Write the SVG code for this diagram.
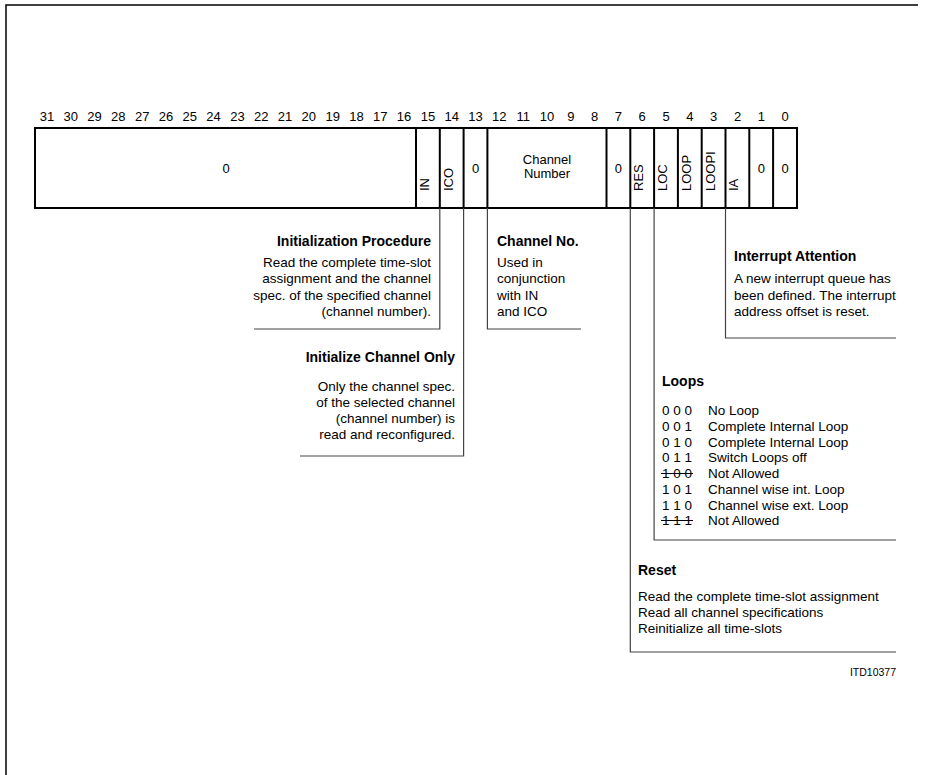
<svg xmlns="http://www.w3.org/2000/svg" width="928" height="775" viewBox="0 0 928 775">
<style>
text{font-family:"Liberation Sans",Arial,sans-serif;font-size:13.5px;fill:#000}
.n{font-size:13px}
.b{font-weight:bold;font-size:14px}
.e{text-anchor:end}
.m{text-anchor:middle}
.frame{stroke:#000;stroke-width:1.5;fill:none}
.reg{stroke:#000;stroke-width:2;fill:#fff}
.div{stroke:#000;stroke-width:2}
.con{stroke:#444;stroke-width:1.2;fill:none}
.strk{stroke:#000;stroke-width:1}
</style>
<rect width="928" height="775" fill="#fff"/>
<path class="frame" d="M6,775 V5 H918"/>
<g id="bits" class="n">
<text class="m n" x="46.9" y="121">31</text><text class="m n" x="70.7" y="121">30</text><text class="m n" x="94.5" y="121">29</text><text class="m n" x="118.3" y="121">28</text><text class="m n" x="142.2" y="121">27</text><text class="m n" x="166" y="121">26</text><text class="m n" x="189.8" y="121">25</text><text class="m n" x="213.6" y="121">24</text><text class="m n" x="237.4" y="121">23</text><text class="m n" x="261.2" y="121">22</text><text class="m n" x="285" y="121">21</text><text class="m n" x="308.8" y="121">20</text><text class="m n" x="332.7" y="121">19</text><text class="m n" x="356.5" y="121">18</text><text class="m n" x="380.3" y="121">17</text><text class="m n" x="404.1" y="121">16</text><text class="m n" x="427.9" y="121">15</text><text class="m n" x="451.7" y="121">14</text><text class="m n" x="475.5" y="121">13</text><text class="m n" x="499.3" y="121">12</text><text class="m n" x="523.2" y="121">11</text><text class="m n" x="547" y="121">10</text><text class="m n" x="570.8" y="121">9</text><text class="m n" x="594.6" y="121">8</text><text class="m n" x="618.4" y="121">7</text><text class="m n" x="642.2" y="121">6</text><text class="m n" x="666" y="121">5</text><text class="m n" x="689.8" y="121">4</text><text class="m n" x="713.7" y="121">3</text><text class="m n" x="737.5" y="121">2</text><text class="m n" x="761.3" y="121">1</text><text class="m n" x="785.1" y="121">0</text>
</g>
<g id="register">
<rect class="reg" x="35" y="128" width="762" height="80"/>
<path class="div" d="M416,128V208M439.8,128V208M463.6,128V208M487.4,128V208M606.5,128V208M630.3,128V208M654.1,128V208M677.9,128V208M701.7,128V208M725.5,128V208M749.3,128V208M773.1,128V208"/>
<text class="m n" x="226" y="173">0</text>
<text class="n" transform="translate(429,191) rotate(-90)">IN</text>
<text class="n" transform="translate(453,191) rotate(-90)">ICO</text>
<text class="m n" x="475.5" y="173">0</text>
<text class="m n" x="547" y="164">Channel</text>
<text class="m n" x="547" y="178">Number</text>
<text class="m n" x="618.4" y="173">0</text>
<text class="n" transform="translate(643,191) rotate(-90)">RES</text>
<text class="n" transform="translate(667,191) rotate(-90)">LOC</text>
<text class="n" transform="translate(690.8,191) rotate(-90)">LOOP</text>
<text class="n" transform="translate(714.6,191) rotate(-90)">LOOPI</text>
<text class="n" transform="translate(738.4,191) rotate(-90)">IA</text>
<text class="m n" x="761.3" y="173">0</text>
<text class="m n" x="785.1" y="173">0</text>
</g>
<g id="connectors">
<path class="con" d="M439.8,208V329H254"/>
<path class="con" d="M463.6,208V456H300"/>
<path class="con" d="M487.4,208V329H581"/>
<path class="con" d="M725.5,208V338H896"/>
<path class="con" d="M654.1,208V540H896"/>
<path class="con" d="M630.3,208V652H896"/>
</g>
<g id="init-proc">
<text class="b e" x="431" y="245.5">Initialization Procedure</text>
<text class="e" x="431" y="266.5">Read the complete time-slot</text>
<text class="e" x="431" y="283">assignment and the channel</text>
<text class="e" x="431" y="299.5">spec. of the specified channel</text>
<text class="e" x="431" y="316">(channel number).</text>
</g>
<g id="init-chan">
<text class="b e" x="455" y="362">Initialize Channel Only</text>
<text class="e" x="455" y="391">Only the channel spec.</text>
<text class="e" x="455" y="407">of the selected channel</text>
<text class="e" x="455" y="423">(channel number) is</text>
<text class="e" x="455" y="439">read and reconfigured.</text>
</g>
<g id="chan-no">
<text class="b" x="497" y="245.5">Channel No.</text>
<text x="497" y="266.5">Used in</text>
<text x="497" y="283">conjunction</text>
<text x="497" y="299.5">with IN</text>
<text x="497" y="316">and ICO</text>
</g>
<g id="int-att">
<text class="b" x="734" y="261">Interrupt Attention</text>
<text x="734" y="283">A new interrupt queue has</text>
<text x="734" y="299.5">been defined. The interrupt</text>
<text x="734" y="316">address offset is reset.</text>
</g>
<g id="loops">
<text class="b" x="662" y="386">Loops</text>
<text x="662" y="415">0 0 0</text><text x="708" y="415">No Loop</text>
<text x="662" y="431">0 0 1</text><text x="708" y="431">Complete Internal Loop</text>
<text x="662" y="447">0 1 0</text><text x="708" y="447">Complete Internal Loop</text>
<text x="662" y="462">0 1 1</text><text x="708" y="462">Switch Loops off</text>
<text x="662" y="478">1 0 0</text><text x="708" y="478">Not Allowed</text>
<line class="strk" x1="661" y1="473.5" x2="693" y2="473.5"/>
<text x="662" y="494">1 0 1</text><text x="708" y="494">Channel wise int. Loop</text>
<text x="662" y="510">1 1 0</text><text x="708" y="510">Channel wise ext. Loop</text>
<text x="662" y="525">1 1 1</text><text x="708" y="525">Not Allowed</text>
<line class="strk" x1="661" y1="520.5" x2="693" y2="520.5"/>
</g>
<g id="reset">
<text class="b" x="638" y="575">Reset</text>
<text x="638" y="601">Read the complete time-slot assignment</text>
<text x="638" y="617">Read all channel specifications</text>
<text x="638" y="633">Reinitialize all time-slots</text>
</g>
<text class="e" x="896" y="676" style="font-size:10.5px">ITD10377</text>
</svg>
